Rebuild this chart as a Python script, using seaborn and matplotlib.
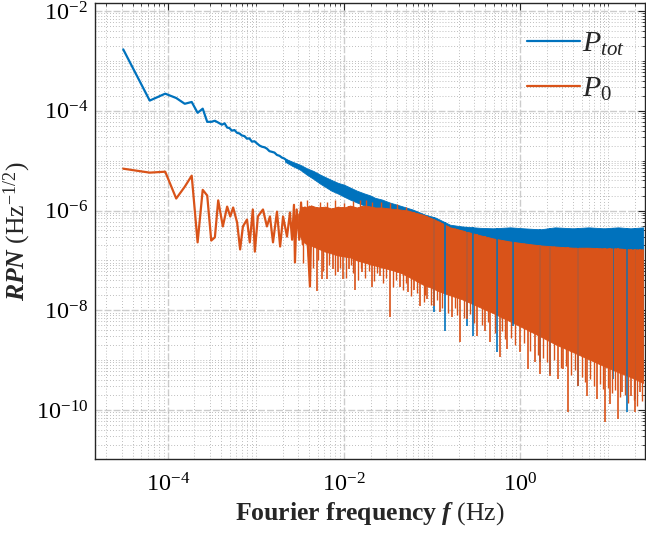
import numpy as np
import matplotlib.pyplot as plt
import seaborn as sns
from matplotlib.ticker import FixedLocator, LogLocator, NullFormatter
from matplotlib.lines import Line2D

# ---- data (frequency in Hz, RPN in Hz^-1/2) ----
# low-frequency part, drawn as plain lines
blue_f_line = [3.1e-5, 6.2e-5, 9.3e-5, 1.24e-4, 1.55e-4, 1.86e-4, 2.17e-4, 2.48e-4,
               2.79e-4, 3.1e-4, 3.41e-4, 3.72e-4, 4.1e-4, 4.4e-4, 4.7e-4, 5.0e-4,
               5.3e-4, 5.7e-4, 6.1e-4, 6.5e-4, 6.9e-4, 7.4e-4, 7.9e-4, 8.4e-4,
               9.0e-4, 9.6e-4, 1.03e-3, 1.1e-3, 1.17e-3, 1.25e-3, 1.33e-3, 1.42e-3,
               1.52e-3, 1.62e-3, 1.73e-3, 1.85e-3, 1.97e-3, 2.1e-3, 2.25e-3, 2.43e-3]
blue_v_line = [1.7e-3, 1.6e-4, 2.2e-4, 1.8e-4, 1.38e-4, 1.5e-4, 9.1e-5, 1.1e-4,
               6.0e-5, 6.0e-5, 6.3e-5, 5.8e-5, 5.25e-5, 5.6e-5, 4.6e-5, 4.5e-5,
               4.0e-5, 4.1e-5, 3.6e-5, 3.5e-5, 3.2e-5, 3.1e-5, 2.75e-5, 2.8e-5,
               2.4e-5, 2.45e-5, 2.2e-5, 2.0e-5, 1.9e-5, 1.85e-5, 1.74e-5, 1.55e-5,
               1.5e-5, 1.45e-5, 1.3e-5, 1.25e-5, 1.15e-5, 1.1e-5, 1.0e-5, 9.1e-6]

orange_f_line = [3.1e-5, 6.2e-5, 9.3e-5, 1.24e-4, 1.55e-4, 1.86e-4, 2.17e-4, 2.48e-4,
                 2.79e-4, 3.1e-4, 3.41e-4, 3.72e-4, 4.2e-4, 4.7e-4, 5.1e-4, 5.5e-4,
                 6.1e-4, 6.6e-4, 7.1e-4, 7.9e-4, 8.5e-4, 9.2e-4, 9.7e-4, 1.05e-3,
                 1.2e-3, 1.33e-3, 1.44e-3, 1.56e-3, 1.73e-3, 1.88e-3, 2.03e-3, 2.25e-3,
                 2.43e-3, 2.57e-3, 2.7e-3, 2.77e-3, 2.9e-3, 3.1e-3, 3.25e-3, 3.4e-3,
                 3.6e-3, 3.9e-3, 4.1e-3, 4.3e-3]
orange_v_line = [6.9e-6, 5.75e-6, 6.0e-6, 1.74e-6, 3.0e-6, 5.0e-6, 2.3e-7, 2.6e-6,
                 2.0e-6, 2.5e-7, 2.9e-7, 1.6e-6, 4.8e-7, 1.2e-6, 7.6e-7, 1.15e-6,
                 5.75e-7, 1.66e-7, 4.8e-7, 6.6e-7, 2.3e-7, 1.05e-6, 1.5e-7, 7.6e-7,
                 1.05e-6, 4.8e-7, 7.6e-7, 2.3e-7, 9.5e-7, 1.9e-7, 7.6e-7, 3.0e-7,
                 9.1e-7, 2.6e-7, 1.3e-6, 9.1e-8, 1.05e-6, 2.6e-7, 1.45e-6, 2.1e-7,
                 1.15e-6, 1.66e-7, 3.0e-8, 1.2e-6]

# high-frequency part: upper / lower envelope of the dense noise band
blue_band_f = [2.14e-3, 2.6e-3, 3.16e-3, 3.8e-3, 4.5e-3, 5.3e-3, 6.1e-3, 7.2e-3,
               8.5e-3, 1.0e-2, 1.17e-2, 1.4e-2, 1.7e-2, 2.0e-2, 2.25e-2, 2.7e-2,
               3.3e-2, 4.3e-2, 6.0e-2, 8.3e-2, 0.11, 0.16, 0.22, 0.35, 0.5, 0.77,
               1.1, 1.7, 2.5, 4.0, 6.0, 9.0, 13.0, 18.0, 25.0]
blue_band_top = [1.1e-5, 9.5e-6, 8.3e-6, 7.0e-6, 6.2e-6, 5.3e-6, 4.7e-6, 4.1e-6,
                 3.6e-6, 3.3e-6, 2.9e-6, 2.5e-6, 2.2e-6, 2.0e-6, 1.8e-6, 1.66e-6,
                 1.45e-6, 1.26e-6, 1.05e-6, 8.3e-7, 7.2e-7, 5.2e-7, 4.8e-7, 4.5e-7,
                 4.4e-7, 4.6e-7, 4.4e-7, 4.2e-7, 4.6e-7, 4.4e-7, 4.6e-7, 4.4e-7,
                 4.6e-7, 4.4e-7, 4.6e-7]
blue_band_low = [9.5e-6, 7.8e-6, 6.6e-6, 5.2e-6, 4.3e-6, 3.5e-6, 3.0e-6, 2.5e-6,
                 2.2e-6, 1.9e-6, 1.66e-6, 1.45e-6, 1.26e-6, 1.1e-6, 9.5e-7, 8.7e-7,
                 7.9e-7, 7.2e-7, 5.2e-7, 4.5e-8, 3.6e-8, 2.7e-8, 2.2e-8, 1.5e-8,
                 1.15e-8, 8.0e-9, 5.8e-9, 4.0e-9, 2.8e-9, 1.9e-9, 1.4e-9, 1.0e-9,
                 7.5e-10, 6.0e-10, 4.6e-10]

orange_band_f = [3.0e-3, 3.3e-3, 3.6e-3, 4.2e-3, 5.0e-3, 6.1e-3, 7.2e-3, 8.5e-3,
                 1.0e-2, 1.17e-2, 1.4e-2, 1.7e-2, 2.0e-2, 2.25e-2, 2.7e-2, 3.3e-2,
                 4.3e-2, 5.3e-2, 6.4e-2, 7.8e-2, 9.5e-2, 0.12, 0.16, 0.22, 0.35, 0.5,
                 0.77, 1.1, 1.7, 2.5, 4.0, 6.0, 9.0, 13.0, 18.0, 25.0]
orange_band_top = [8.3e-7, 1.2e-6, 1.15e-6, 1.26e-6, 1.15e-6, 1.2e-6, 1.1e-6, 1.2e-6,
                   1.15e-6, 1.26e-6, 1.15e-6, 1.26e-6, 1.2e-6, 1.15e-6, 1.15e-6, 1.1e-6,
                   1.05e-6, 1.0e-6, 9.1e-7, 8.3e-7, 7.2e-7, 6.0e-7, 4.6e-7, 4.0e-7,
                   3.2e-7, 2.75e-7, 2.4e-7, 2.2e-7, 2.0e-7, 1.9e-7, 1.8e-7, 1.8e-7,
                   1.74e-7, 1.74e-7, 1.66e-7, 1.66e-7]
orange_band_low = [3.8e-7, 2.6e-7, 2.2e-7, 2.0e-7, 1.74e-7, 1.5e-7, 1.38e-7, 1.26e-7,
                   1.2e-7, 1.15e-7, 1.0e-7, 9.1e-8, 8.3e-8, 7.9e-8, 7.2e-8, 6.6e-8,
                   5.75e-8, 4.8e-8, 4.0e-8, 3.3e-8, 2.9e-8, 2.4e-8, 2.0e-8, 1.66e-8,
                   1.15e-8, 8.7e-9, 6.0e-9, 4.4e-9, 3.0e-9, 2.1e-9, 1.45e-9, 1.05e-9,
                   7.6e-10, 5.75e-10, 4.6e-10, 3.5e-10]

# deep dips below the bands
orange_dip_f = [2.77e-3, 4.1e-3, 4.93e-3, 5.6e-3, 6.4e-3, 7.5e-3, 8.55e-3, 9.75e-3,
                1.14e-2, 1.33e-2, 1.6e-2, 2.08e-2, 2.56e-2, 3.33e-2, 4.33e-2, 5.33e-2,
                6.2e-2, 7.3e-2, 8.8e-2, 0.105, 0.123, 0.169, 0.208, 0.25, 0.324, 0.4,
                0.456, 0.593, 0.71, 1.0, 1.23, 1.48, 1.69, 2.19, 2.7, 3.08, 3.51,
                4.56, 5.77, 7.5, 9.25, 10.5, 13.0, 14.4, 18.2, 20.3, 23.1]
orange_dip_v = [9.1e-8, 3.0e-8, 2.4e-8, 4.2e-8, 4.2e-8, 6.6e-8, 5.75e-8, 4.2e-8,
                6.6e-8, 2.6e-8, 5.75e-8, 3.0e-8, 4.8e-8, 7.2e-9, 3.0e-8, 2.3e-8,
                2.6e-8, 1.2e-8, 1.66e-8, 1.2e-8, 9.1e-9, 7.2e-9, 2.3e-9, 6.6e-9,
                3.0e-9, 3.8e-9, 2.3e-9, 1.15e-9, 1.66e-9, 1.45e-9, 6.6e-10, 9.1e-10,
                5.2e-10, 4.8e-10, 4.2e-10, 6.6e-10, 9.1e-11, 3.0e-10, 1.9e-10, 1.66e-10,
                5.75e-11, 1.3e-10, 6.6e-11, 2.3e-10, 1.9e-10, 9.1e-11, 2.3e-10]
# shallower dips that make the lower edge ragged
orange_dip2_f = [3.4e-3, 3.9e-3, 4.5e-3, 5.1e-3, 5.8e-3, 6.7e-3, 7.8e-3, 9.0e-3,
                 1.05e-2, 1.2e-2, 1.28e-2, 1.45e-2, 1.55e-2, 1.75e-2, 1.9e-2, 2.2e-2,
                 2.4e-2, 2.8e-2, 3.0e-2, 3.6e-2, 3.9e-2, 4.7e-2, 5.0e-2, 5.8e-2,
                 6.7e-2, 8.0e-2, 8.4e-2, 9.8e-2, 0.113, 0.13, 0.15, 0.18, 0.19, 0.23,
                 0.27, 0.3, 0.37, 0.43, 0.52, 0.62, 0.67, 0.78, 0.88, 1.1, 1.3, 1.6,
                 1.8, 2.0, 2.4, 2.9, 3.3, 3.8, 4.2, 5.0, 5.5, 6.3, 7.0, 8.0, 8.8, 10.0,
                 11.0, 12.0, 13.8, 15.5, 17.0, 19.5, 21.5, 24.5]
orange_dip2_v = [9e-8, 1.2e-7, 7e-8, 1.0e-7, 6e-8, 8e-8, 5e-8, 7e-8,
                 4.5e-8, 8e-8, 5.5e-8, 4e-8, 7e-8, 4.5e-8, 6e-8, 3.8e-8,
                 5.5e-8, 3.5e-8, 4.5e-8, 3.0e-8, 4.0e-8, 2.5e-8, 3.5e-8, 1.9e-8,
                 2.2e-8, 1.5e-8, 2.0e-8, 1.3e-8, 1.6e-8, 1.1e-8, 9e-9, 1.1e-8, 8e-9, 7e-9,
                 8.5e-9, 5.5e-9, 5e-9, 5.8e-9, 3.5e-9, 3.8e-9, 2.6e-9, 2.8e-9, 2.0e-9, 2.2e-9,
                 1.5e-9, 1.3e-9, 1.1e-9, 9e-10, 1.0e-9, 7e-10, 7.5e-10, 5e-10, 6.5e-10,
                 4.5e-10, 3.6e-10, 4.2e-10, 3.0e-10, 3.3e-10, 2.6e-10, 2.8e-10,
                 2.2e-10, 2.5e-10, 1.8e-10, 2.0e-10, 1.4e-10, 1.6e-10, 1.2e-10, 1.5e-10]
blue_dip_f = [0.105, 0.141, 0.25, 0.292, 0.548, 0.83, 1.69, 2.19, 4.56, 11.4, 16.4, 20.3]
blue_dip_v = [9.1e-9, 3.8e-9, 4.8e-9, 3.0e-9, 1.45e-9, 4.8e-9, 9.1e-10, 5.2e-10,
              3.0e-10, 4.2e-10, 9.1e-11, 1.66e-10]
# short peaks above the orange band
orange_peak_f = [3.8e-3, 5.3e-3, 6.4e-3, 8.0e-3, 1.0e-2, 1.25e-2, 1.5e-2, 1.8e-2,
                 2.1e-2, 2.6e-2, 3.3e-2, 4.0e-2, 5.0e-2]
orange_peak_v = [1.6e-6, 1.45e-6, 1.5e-6, 1.6e-6, 1.4e-6, 1.55e-6, 1.6e-6, 1.6e-6,
                 1.5e-6, 1.45e-6, 1.4e-6, 1.35e-6, 1.2e-6]

BLUE = '#0072BD'
ORANGE = '#D95319'

sns.set_theme(style='white')
plt.rcParams['font.family'] = ['Liberation Serif', 'DejaVu Serif']
plt.rcParams['mathtext.fontset'] = 'custom'
plt.rcParams['mathtext.rm'] = 'Liberation Serif'
plt.rcParams['mathtext.it'] = 'Liberation Serif:italic'
plt.rcParams['mathtext.bf'] = 'Liberation Serif:bold'
plt.rcParams['mathtext.bfit'] = 'Liberation Serif:bold:italic'

fig = plt.figure(figsize=(6.46, 5.33), dpi=100)
ax = fig.add_axes([0.147, 0.139, 0.8515, 0.8555])
ax.set_xscale('log')
ax.set_yscale('log')


def edge(f, band_f, band_v):
    # envelope value at f, interpolated on the log axes
    return 10 ** np.interp(np.log10(f), np.log10(band_f), np.log10(band_v))


# P_tot
sns.lineplot(x=blue_f_line, y=blue_v_line, ax=ax, color=BLUE, lw=1.6,
             sort=False, estimator=None)
ax.fill_between(blue_band_f, blue_band_low, blue_band_top, color=BLUE, lw=0.6,
                edgecolor=BLUE)
ax.vlines(blue_dip_f, blue_dip_v, edge(blue_dip_f, blue_band_f, blue_band_top),
          color=BLUE, lw=1.2)

# P_0
sns.lineplot(x=orange_f_line, y=orange_v_line, ax=ax, color=ORANGE, lw=1.6,
             sort=False, estimator=None)
ax.fill_between(orange_band_f, orange_band_low, orange_band_top, color=ORANGE,
                lw=0.6, edgecolor=ORANGE)
ax.vlines(orange_dip_f, orange_dip_v, edge(orange_dip_f, orange_band_f, orange_band_top),
          color=ORANGE, lw=1.2)
ax.vlines(orange_dip2_f, orange_dip2_v, edge(orange_dip2_f, orange_band_f, orange_band_top),
          color=ORANGE, lw=1.0)
ax.vlines(orange_peak_f, edge(orange_peak_f, orange_band_f, orange_band_low), orange_peak_v,
          color=ORANGE, lw=1.0)

ax.set_xlim(1.48e-5, 26.3)
ax.set_ylim(1.05e-11, 1.45e-2)

ax.xaxis.set_major_locator(FixedLocator([1e-4, 1e-2, 1e0]))
ax.xaxis.set_minor_locator(LogLocator(base=10, subs=np.arange(1, 10), numticks=40))
ax.xaxis.set_minor_formatter(NullFormatter())
ax.yaxis.set_major_locator(FixedLocator([1e-10, 1e-8, 1e-6, 1e-4, 1e-2]))
ax.yaxis.set_minor_locator(LogLocator(base=10, subs=np.arange(1, 10), numticks=40))
ax.yaxis.set_minor_formatter(NullFormatter())

ax.grid(which='major', color='#cccccc', lw=1.0, ls=(0, (5, 1.5)))
ax.grid(which='minor', color='#a8a8a8', lw=0.6, ls=(0, (1, 2.5)))
ax.set_axisbelow(True)

ax.tick_params(which='both', direction='in', top=True, right=True, colors='#262626',
               labelcolor='black', labelsize=17.5)
ax.tick_params(which='major', length=5, width=0.8)
ax.tick_params(axis='x', which='major', pad=10)
ax.tick_params(axis='y', which='major', pad=5)
ax.tick_params(which='minor', length=2.5, width=0.6)
for s in ax.spines.values():
    s.set_color('#262626')
    s.set_linewidth(1.0)

ax.set_xlabel(r'$\mathbf{Fourier\ frequency}\ \mathbfit{f}\ \mathrm{(Hz)}$', fontsize=18.5,
              labelpad=3)
ax.set_ylabel(r'$\mathbfit{RPN}\ \mathrm{(Hz^{-1/2})}$', fontsize=18.5, labelpad=2)

handles = [Line2D([], [], color=BLUE, lw=1.6), Line2D([], [], color=ORANGE, lw=1.6)]
ax.legend(handles, [r'$P_{tot}$', r'$P_0$'], loc='upper right',
          bbox_to_anchor=(0.986, 0.966), frameon=False, fontsize=21.5,
          handlelength=1.75, handletextpad=0.1, labelspacing=0.6, borderaxespad=0.0)

fig.savefig('out.png', dpi=100)
